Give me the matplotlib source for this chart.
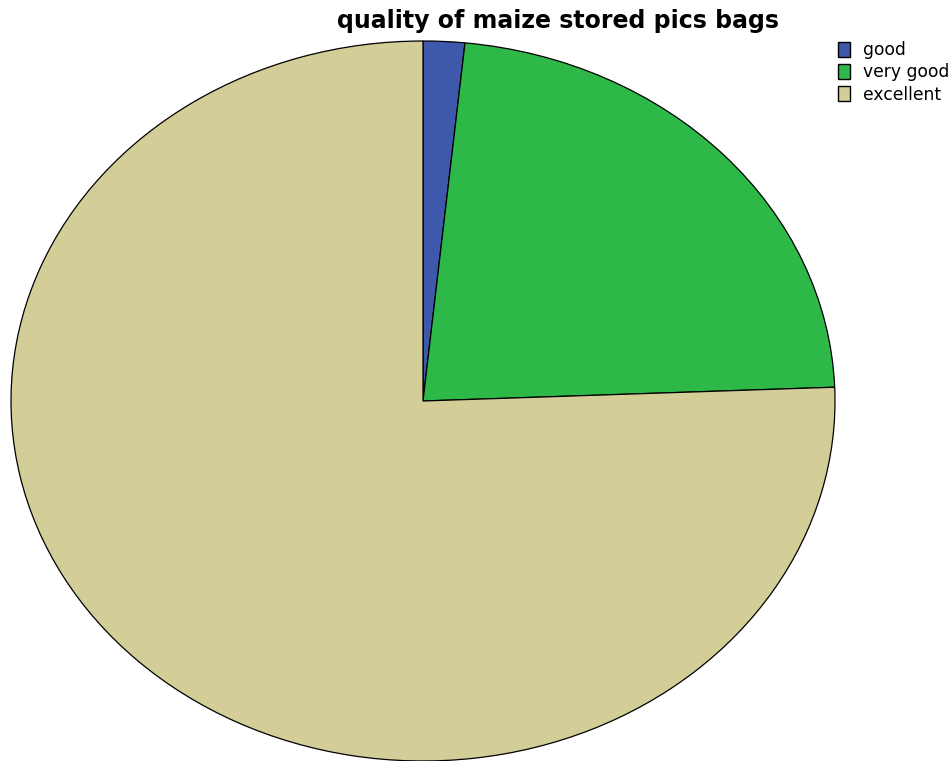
import matplotlib
matplotlib.use('Agg')
import matplotlib.pyplot as plt
from matplotlib.patches import Patch

# quality of maize stored in PICS bags (counts)
categories = ['good', 'very good', 'excellent']
counts = [2, 28, 93]
colors = ['#3e58ac', '#2eb848', '#d3ce97']

plt.rcParams['font.family'] = ['DejaVu Sans']

fig = plt.figure(figsize=(9.53, 7.61), dpi=100)
ax = fig.add_axes([11 / 953, 0.0, 824 / 953, 720 / 761])
ax.pie(counts, colors=colors, startangle=90, counterclock=False,
       wedgeprops=dict(edgecolor='black', linewidth=0.9))
ax.set_aspect('auto')
ax.set_xlim(-1, 1)
ax.set_ylim(-1, 1)
ax.axis('off')

fig.text(558 / 953, 1 - 28 / 761, 'quality of maize stored pics bags',
         ha='center', va='baseline', fontsize=17, fontweight='bold')

handles = [Patch(facecolor=c, edgecolor='black', linewidth=1.0) for c in colors]
fig.legend(handles, categories, loc='upper left', bbox_to_anchor=(838 / 953, 1 - 41 / 761),
           frameon=False, fontsize=12.3, handlelength=0.72, handleheight=1.0,
           handletextpad=0.75, labelspacing=0.25, borderpad=0.0, borderaxespad=0.0)

fig.savefig('out.png', dpi=100)
